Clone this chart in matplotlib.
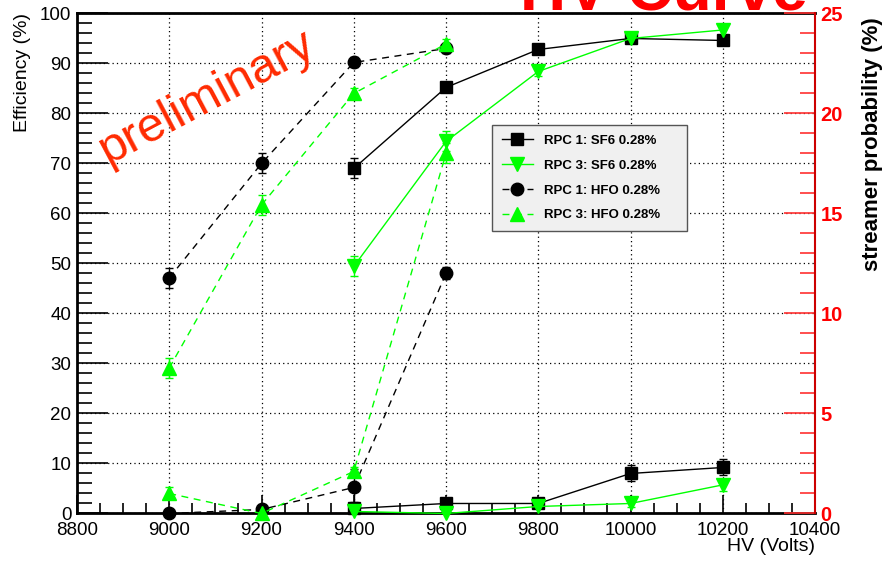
import matplotlib.pyplot as plt
from matplotlib.ticker import MultipleLocator

plt.rcParams['font.family'] = ['Liberation Sans', 'DejaVu Sans']

# HV points (Volts)
hv_sf6 = [9400, 9600, 9800, 10000, 10200]
hv_hfo = [9000, 9200, 9400, 9600]

# efficiency (%)
eff_rpc1_sf6 = [69.0, 85.2, 92.8, 95.0, 94.6]
eff_rpc3_sf6 = [49.4, 74.4, 88.4, 95.0, 96.7]
eff_rpc1_hfo = [47.1, 70.0, 90.2, 93.0]
eff_rpc3_hfo = [29.1, 61.7, 84.0, 93.9]
err_eff_rpc1_sf6 = [2, 1, 1, 1, 1]
err_eff_rpc3_sf6 = [2, 2, 1, 1, 1]
err_eff_rpc1_hfo = [2, 2, 1, 1]
err_eff_rpc3_hfo = [2, 2, 1, 1]

# streamer probability (%)
str_rpc1_sf6 = [0.25, 0.5, 0.5, 2.0, 2.3]
str_rpc3_sf6 = [0.1, 0.0, 0.35, 0.5, 1.43]
str_rpc1_hfo = [0.0, 0.2, 1.3, 12.0]
str_rpc3_hfo = [1.0, 0.0, 2.1, 18.0]
err_str_rpc1_sf6 = [0.3, 0.2, 0.2, 0.4, 0.4]
err_str_rpc3_sf6 = [0.1, 0.1, 0.1, 0.2, 0.3]
err_str_rpc1_hfo = [0.1, 0.2, 0.9, 0.3]
err_str_rpc3_hfo = [0.3, 0.1, 0.2, 0.5]

labels = ['RPC 1: SF6 0.28%', 'RPC 3: SF6 0.28%',
          'RPC 1: HFO 0.28%', 'RPC 3: HFO 0.28%']

green = '#00ff00'
dash = (0, (5, 4))

fig = plt.figure(figsize=(8.86, 5.61), dpi=100)
ax = fig.add_axes([0.0869, 0.0847, 0.833, 0.8913])
ax2 = ax.twinx()

styles = [
    (hv_sf6, 'k', 's', 9, '-'),
    (hv_sf6, green, 'v', 9.5, '-'),
    (hv_hfo, 'k', 'o', 9, dash),
    (hv_hfo, green, '^', 9.5, dash),
]
effs = [eff_rpc1_sf6, eff_rpc3_sf6, eff_rpc1_hfo, eff_rpc3_hfo]
eerr = [err_eff_rpc1_sf6, err_eff_rpc3_sf6, err_eff_rpc1_hfo, err_eff_rpc3_hfo]
strs = [str_rpc1_sf6, str_rpc3_sf6, str_rpc1_hfo, str_rpc3_hfo]
serr = [err_str_rpc1_sf6, err_str_rpc3_sf6, err_str_rpc1_hfo, err_str_rpc3_hfo]

handles = []
for (x, c, m, ms, ls), y, ye, s, se in zip(styles, effs, eerr, strs, serr):
    ax.errorbar(x, y, yerr=ye, fmt='none', ecolor=c, elinewidth=1,
                capsize=3, zorder=3)
    h, = ax.plot(x, y, color=c, marker=m, markersize=ms, linestyle=ls,
                 linewidth=1, zorder=4)
    handles.append(h)
    ax2.errorbar(x, s, yerr=se, fmt='none', ecolor=c, elinewidth=1,
                 capsize=3, zorder=3)
    ax2.plot(x, s, color=c, marker=m, markersize=ms, linestyle=ls,
             linewidth=1, zorder=4, clip_on=False)

# axes ranges and ticks
ax.set_xlim(8800, 10400)
ax.set_ylim(0, 100)
ax2.set_ylim(0, 25)
ax.xaxis.set_major_locator(MultipleLocator(200))
ax.xaxis.set_minor_locator(MultipleLocator(50))
ax.yaxis.set_major_locator(MultipleLocator(10))
ax.yaxis.set_minor_locator(MultipleLocator(2))
ax2.yaxis.set_major_locator(MultipleLocator(5))
ax2.yaxis.set_minor_locator(MultipleLocator(1))

ax.tick_params(axis='both', which='both', direction='in', right=False,
               top=False, labelsize=13.5, width=1.2)
ax.tick_params(axis='y', which='major', length=22, pad=4)
ax.tick_params(axis='y', which='minor', length=11)
ax.tick_params(axis='x', which='major', length=13, pad=6)
ax.tick_params(axis='x', which='minor', length=7)
ax2.tick_params(axis='y', which='both', direction='in', colors='#ff3030',
                labelsize=14.5, width=1.2, pad=4)
ax2.tick_params(axis='y', which='major', length=22)
ax2.tick_params(axis='y', which='minor', length=11)
for t in ax2.get_yticklabels():
    t.set_fontweight('bold')
    t.set_color('#ff0000')

for side in ['left', 'bottom', 'top']:
    ax.spines[side].set_linewidth(2)
ax.spines['right'].set_visible(False)
for side in ['left', 'bottom', 'top']:
    ax2.spines[side].set_visible(False)
ax2.spines['right'].set_color('#cc0000')
ax2.spines['right'].set_linewidth(1.5)

ax.grid(True, which='major', color='black', linestyle=(0, (1, 2.5)),
        linewidth=0.9)

ax.set_ylabel('Efficiency (%)', fontsize=14)
ax.yaxis.set_label_coords(-0.062, 1.0)
ax.yaxis.label.set_horizontalalignment('right')
ax.set_xlabel('HV (Volts)', fontsize=14)
ax.xaxis.set_label_coords(1.0, -0.05)
ax.xaxis.label.set_horizontalalignment('right')
ax2.set_ylabel('streamer probability (%)', fontsize=16, fontweight='bold')
ax2.yaxis.set_label_coords(1.064, 0.993)
ax2.yaxis.label.set_horizontalalignment('right')

leg = ax2.legend(handles, labels, loc='upper left',
                 bbox_to_anchor=(0.562, 0.563, 0.265, 0.214), mode='expand',
                 borderaxespad=0, fancybox=False, framealpha=1,
                 facecolor='#f0f0f0', edgecolor='#555555',
                 prop={'weight': 'bold', 'size': 9.5},
                 labelspacing=0.95, handlelength=2.4, borderpad=0.75)
leg.get_frame().set_linewidth(1.0)

ax.text(0.176, 0.833, 'preliminary', transform=ax.transAxes, rotation=28,
        fontsize=35, color='#ff2a00', ha='center', va='center', zorder=6)

fig.text(0.587, 0.981, 'HV Curve', fontsize=46, fontweight='bold',
         color='#ff0000', ha='left', va='baseline')

fig.savefig('out.png', dpi=100)
